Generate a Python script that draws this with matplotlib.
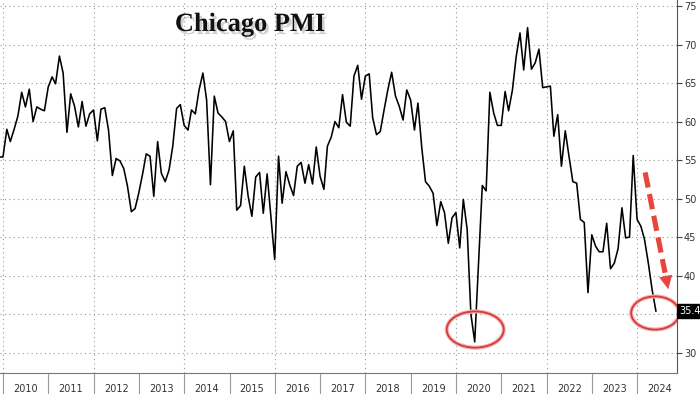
import numpy
import pandas
import matplotlib
matplotlib.use("Agg")
import matplotlib.pyplot as plt
import matplotlib.dates as mdates
import matplotlib.patheffects as pe
from matplotlib.patches import Ellipse

# chicago pmi, monthly, nov 2009 -> may 2024
pmi = [
    55.4, 55.4,                                                        # 2009 nov-dec
    59.0, 57.4, 59.0, 60.7, 63.8, 61.9, 64.2, 60.0, 61.9, 61.6, 61.4, 64.5,   # 2010
    65.8, 64.9, 68.5, 66.3, 58.6, 63.6, 62.0, 59.3, 62.6, 59.4, 61.0, 61.5,   # 2011
    57.5, 61.6, 61.8, 58.9, 53.0, 55.2, 54.9, 53.9, 51.6, 48.3, 48.7, 50.8,   # 2012
    53.3, 55.8, 55.5, 50.3, 57.4, 53.3, 52.2, 53.7, 56.8, 61.7, 62.2, 59.5,   # 2013
    58.9, 61.5, 61.0, 64.1, 66.3, 62.8, 51.8, 63.3, 61.1, 60.6, 60.0, 57.4,   # 2014
    58.8, 48.5, 49.1, 54.2, 50.3, 47.7, 52.8, 53.4, 48.1, 53.2, 47.7, 42.1,   # 2015
    55.5, 49.4, 53.5, 51.8, 50.4, 54.2, 54.7, 52.0, 54.4, 51.9, 56.7, 52.9,   # 2016
    51.2, 56.8, 58.0, 60.0, 59.2, 63.5, 59.9, 59.4, 65.9, 67.3, 62.9, 65.9,   # 2017
    66.2, 60.5, 58.3, 58.7, 61.5, 64.1, 66.4, 63.3, 62.0, 60.2, 64.1, 62.8,   # 2018
    58.9, 62.4, 56.6, 52.2, 51.6, 50.7, 46.5, 49.6, 48.2, 44.2, 47.5, 48.2,   # 2019
    43.6, 49.9, 46.0, 35.0, 31.4, 41.5, 51.7, 51.0, 63.8, 61.1, 59.5, 59.5,   # 2020
    63.9, 61.4, 64.1, 68.4, 71.5, 66.7, 72.2, 66.8, 67.6, 69.4, 64.4, 64.5,   # 2021
    64.6, 58.1, 60.9, 54.2, 58.8, 55.5, 52.2, 52.0, 47.3, 46.9, 37.8, 45.3,   # 2022
    43.8, 43.1, 43.1, 46.8, 40.9, 41.6, 43.5, 48.8, 44.9, 45.0, 55.6, 47.3,   # 2023
    46.4, 44.7, 41.6, 38.2, 35.4,                                      # 2024
]
months = pandas.date_range("2009-11-30", periods=len(pmi), freq="ME")

years = list(range(2010, 2025))
y_ticks = [30, 35, 40, 45, 50, 55, 60, 65, 70, 75]
last_label = "35.4"


def d(s):
    return mdates.date2num(pandas.Timestamp(s))


fig = plt.figure(figsize=(7, 3.94), dpi=100)
ax = fig.add_axes([0, 21 / 394, 677 / 700, 373 / 394])

ax.plot(months, pmi, color="black", lw=1.15, zorder=3)

ax.set_xlim(d("2009-12-07"), d("2024-11-17"))
ax.set_ylim(27.36, 75.78)

# right hand axis only, the 35 label is hidden behind the last value tag
ax.yaxis.tick_right()
ax.set_yticks(y_ticks)
ax.set_yticklabels(["" if v == 35 else str(v) for v in y_ticks])
ax.tick_params(axis="y", direction="out", length=3.5, width=0.8, color="#444",
               labelsize=7, labelcolor="#333", pad=1.5)
for s in ["top", "left"]:
    ax.spines[s].set_visible(False)
ax.spines["right"].set_color("#555")
ax.spines["bottom"].set_color("#777")

# year separators as long ticks, labels sit in the middle of each year
ax.set_xticks([d(f"{y}-01-01") for y in years])
ax.set_xticklabels([])
ax.set_xticks([d(f"{y}-07-02") for y in years], minor=True)
ax.set_xticklabels([str(y) for y in years], minor=True)
ax.tick_params(axis="x", which="major", direction="out", length=16, width=0.8, color="#999")
ax.tick_params(axis="x", which="minor", length=0, labelsize=7, labelcolor="#333", pad=8)

# dotted grid
for v in y_ticks:
    ax.axhline(v, color="#999", lw=0.8, ls=(0, (1, 3)), zorder=1)
for y in years[::2]:
    ax.axvline(d(f"{y}-01-01"), color="#999", lw=0.8, ls=(0, (1, 3)), zorder=1)

# title with a soft shadow
ax.text(d("2015-06-15"), 72.6, "Chicago PMI", ha="center", va="center",
        fontsize=19, fontweight="bold", family="Liberation Serif", color="#111",
        path_effects=[pe.withSimplePatchShadow(offset=(1.8, -2.2), shadow_rgbFace="#999", alpha=0.45)],
        zorder=5)

# last value tag on the axis
ax.text(1.003, 35.4, last_label, transform=ax.get_yaxis_transform(), ha="left", va="center",
        fontsize=7, color="white",
        bbox=dict(boxstyle="square,pad=0.2", fc="black", ec="black"), clip_on=False)

# red circles
red = "#d83a3a"
for cx, cy, w, h in [(d("2020-06-04"), 33.0, 460, 4.7), (d("2024-05-25"), 35.15, 387, 4.3)]:
    ax.add_patch(Ellipse((cx, cy), w, h, fill=False, ec="#f3b5b5", lw=3.0, zorder=4))
    ax.add_patch(Ellipse((cx, cy), w, h, fill=False, ec=red, lw=1.3, zorder=4))

# dashed arrow, drawn as line + head
x0, y0 = d("2024-03-05"), 53.4
x1, y1 = d("2024-09-12"), 37.9
xm = x0 + (x1 - x0) * 0.84
ym = y0 + (y1 - y0) * 0.84
ax.plot([x0, xm], [y0, ym], color="#e8453c", lw=3.7, ls=(0, (3.0, 1.3)),
        solid_capstyle="butt", dash_capstyle="butt", zorder=4)
ax.annotate("", xy=(x1, y1), xytext=(xm, ym),
            arrowprops=dict(arrowstyle="-|>", color="#e8453c", lw=0.5, mutation_scale=22),
            zorder=4)

fig.savefig("out.png", dpi=100)
